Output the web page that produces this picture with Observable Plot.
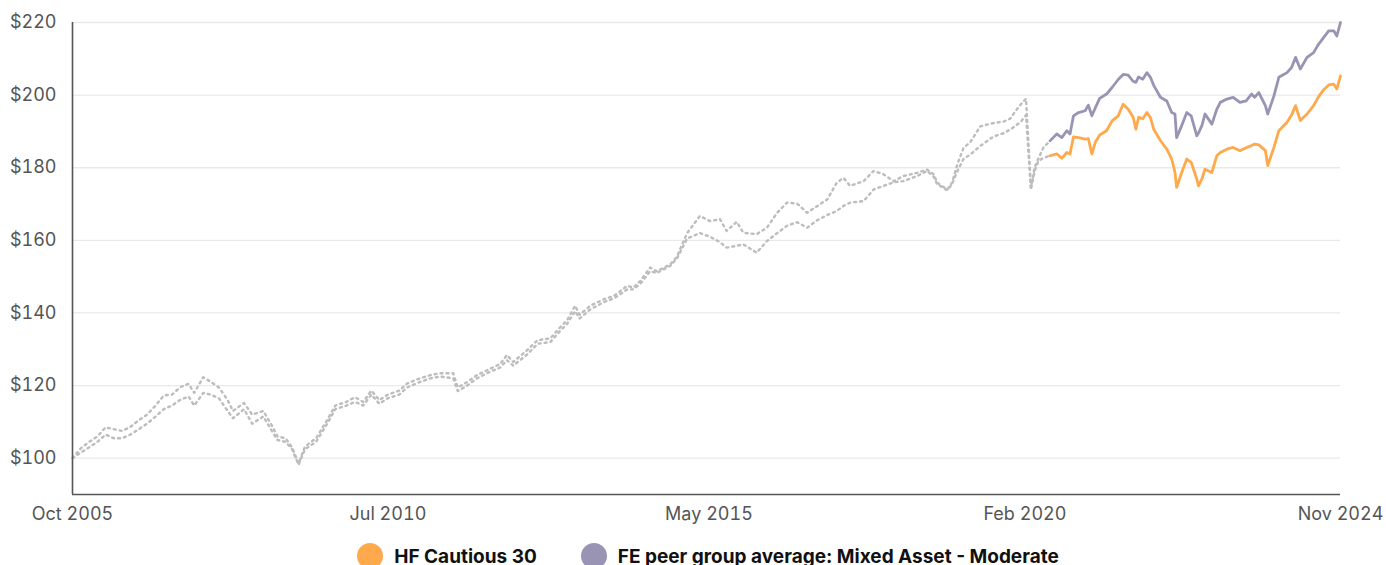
<!DOCTYPE html>
<html>
<head>
<meta charset="utf-8">
<script src="https://cdn.jsdelivr.net/npm/d3@7"></script>
<script src="https://cdn.jsdelivr.net/npm/@observablehq/plot@0.6"></script>
<style>
  html, body { margin: 0; padding: 0; background: #fff; }
  body { width: 1386px; height: 565px; overflow: hidden; font-family: Inter, "Noto Sans", sans-serif; }
  #legend { display: flex; justify-content: center; align-items: center; gap: 44px; margin-top: 13px; padding-left: 30px; }
  .item { display: flex; align-items: center; gap: 11px; font-weight: 700; font-size: 19px; color: #111; }
  .dot { width: 26px; height: 26px; border-radius: 50%; display: inline-block; flex: none; }
</style>
</head>
<body>
<div id="chart"></div>
<div id="legend"></div>
<script>
const seriesNames = ["HF Cautious 30", "FE peer group average: Mixed Asset - Moderate"];
const seriesColors = ["#FFA94D", "#9A94B4"];
const historyColor = "#BDBDBD";
const splitDate = "2020-06-18";

const dates = [
  "2005-10-01","2005-11-15","2006-01-01","2006-02-15","2006-04-01","2006-05-15","2006-07-01","2006-08-15",
  "2006-10-01","2006-11-15","2007-01-01","2007-02-15","2007-04-01","2007-05-15","2007-07-01","2007-08-01",
  "2007-09-20","2007-11-01","2007-12-15","2008-02-01","2008-03-01","2008-05-01","2008-06-15","2008-08-15",
  "2008-10-01","2008-11-01","2008-12-15","2009-01-20","2009-02-25","2009-04-01","2009-06-01","2009-08-01",
  "2009-09-15","2009-11-15","2010-01-01","2010-02-15","2010-04-01","2010-05-15","2010-07-01","2010-09-01",
  "2010-10-15","2010-12-25","2011-02-20","2011-04-15","2011-06-25","2011-07-20","2011-09-10","2011-11-03",
  "2012-01-01","2012-03-10","2012-04-15","2012-05-20","2012-08-03","2012-10-01","2012-12-10","2013-02-01",
  "2013-03-12","2013-04-25","2013-05-20","2013-07-18","2013-10-01","2013-11-25","2014-02-06","2014-03-12",
  "2014-04-18","2014-06-12","2014-07-18","2014-10-01","2014-11-06","2015-01-01","2015-03-12","2015-05-06",
  "2015-07-01","2015-08-06","2015-10-01","2015-11-06","2016-01-18","2016-03-15","2016-05-10","2016-07-03",
  "2016-08-28","2016-10-22","2016-12-15","2017-02-10","2017-04-03","2017-05-10","2017-06-15","2017-08-28",
  "2017-10-22","2017-12-15","2018-02-10","2018-04-03","2018-06-18","2018-08-12","2018-09-18","2018-10-06",
  "2018-12-01","2018-12-28","2019-01-25","2019-03-01","2019-04-06","2019-06-01","2019-08-12","2019-10-06",
  "2019-11-12","2019-12-10","2020-01-10","2020-02-07","2020-03-05","2020-03-25","2020-04-15","2020-05-12",
  "2020-06-18","2020-07-25","2020-08-22","2020-09-18","2020-10-06","2020-10-25","2020-11-22","2020-12-28",
  "2021-01-15","2021-02-03","2021-02-22","2021-03-18","2021-04-25","2021-05-25","2021-06-28","2021-07-25",
  "2021-08-22","2021-09-18","2021-10-03","2021-10-18","2021-11-10","2021-12-03","2021-12-22","2022-01-10",
  "2022-02-15","2022-03-22","2022-04-18","2022-05-06","2022-05-15","2022-06-12","2022-07-10","2022-08-03",
  "2022-09-03","2022-09-12","2022-10-01","2022-10-18","2022-11-25","2022-12-22","2023-01-10","2023-02-15",
  "2023-03-22","2023-04-28","2023-06-01","2023-07-01","2023-07-18","2023-08-10","2023-09-15","2023-09-28",
  "2023-11-01","2023-11-28","2024-01-12","2024-02-06","2024-02-28","2024-03-25","2024-05-01","2024-06-06",
  "2024-07-03","2024-08-01","2024-08-28","2024-09-25","2024-10-12","2024-11-01"
];

const hfCautious = [
  100,101.5,103,104.5,106.5,105.5,105.5,106.5,
  108,109.5,111.5,113.5,114.5,116,117,114.5,
  118,117.5,116.5,113,111,113.5,109.5,111.5,
  107.5,105,104.5,102.5,98.2,102.5,104.5,109.5,
  113.5,114.5,115.5,114.5,117.5,115,116.5,117.5,
  119.5,121,122,122.5,122,118.5,120,122,
  123.5,125,127,125.5,128.5,131.5,132,135,
  137,140.5,138.5,141,143,144,146.5,146.5,
  148,151.5,151,153,155,160.5,162,161,
  159.5,158,158.5,158.9,156.6,159.8,162,164,
  165,163.5,165.5,167,168.1,169.5,170.4,170.8,
  174,175,176,176.3,177.7,179.1,177.5,175.5,
  173.8,175.5,179,182.5,183.6,186,188.6,189.5,
  190.5,191.5,192.7,194.5,174,179,181.8,182.7,
  183.3,183.8,182.6,184.2,183.8,188.5,188.3,187.9,
  188,183.8,187,189,190.2,192.9,194.3,197.5,
  196.1,193.9,190.6,193.9,193.5,195.2,193.8,190.5,
  187.5,185.1,182.4,178.7,174.6,178.7,182.4,181.5,
  176.9,175,176.9,179.6,178.7,183.3,184.2,185.1,
  185.6,184.7,185.5,186.1,186.5,186.3,184.7,180.6,
  185.6,190.2,192.5,194.5,197.1,193,194.8,197.1,
  199.5,201.5,202.8,203,201.7,205.3
];

const fePeer = [
  100,102.7,104.5,106,108.5,108,107.5,108.6,
  110.5,112,114.5,117.3,117.5,119.5,120.5,118,
  122.3,121,119.5,116,113,115.2,112,113,
  109,106,105.5,103,98.5,103.2,105.5,110.5,
  114.5,115.5,116.8,115.5,118.6,116,117.5,118.6,
  120.6,122,122.9,123.4,123.4,119.5,121,122.9,
  124.3,126,128.4,126.5,129.7,132.5,133,136,
  138,142,139.5,142,143.8,144.7,147.5,147,
  148.8,152.5,151.5,153.4,155.5,162,166.7,165.3,
  165.8,162.6,165.1,162.1,161.7,163.5,167.6,170.4,
  170.1,167.6,169.4,171.3,175.9,177.2,175,176.3,
  179.1,178.2,176.3,177.7,178.6,179.5,178.2,175.9,
  174,175.9,180.9,185.5,187,191.4,192.3,192.7,
  193.5,195.5,197.5,199,174.5,180,182.5,185.5,
  187.4,189.3,188.3,190.2,189.3,194.3,195.2,195.7,
  197.2,194.3,196.5,199.1,200.3,202.1,204.3,205.7,
  205.5,203.8,203.5,205,204.4,206.2,204.9,202.6,
  199.4,198.4,195.2,194.8,188.3,191.6,195.2,194.3,
  188.8,189.5,191.6,194.8,192,196.1,198,198.9,
  199.4,198,198.4,200.3,199.4,200.7,197.1,194.8,
  199.8,204.9,206.2,207.6,210.4,207.2,210.4,211.7,
  214,215.9,217.7,217.7,216.3,220
];

const xTickDates = ["2005-10-01", "2010-07-01", "2015-05-01", "2020-02-01", "2024-11-01"];
const yTicks = [100, 120, 140, 160, 180, 200, 220];
const yDomain = [90, 220];

const parse = d3.utcParse("%Y-%m-%d");
const split = parse(splitDate);
const rows = [];
dates.forEach((d, i) => {
  rows.push({date: parse(d), value: hfCautious[i], series: seriesNames[0]});
  rows.push({date: parse(d), value: fePeer[i], series: seriesNames[1]});
});
const history = rows.filter(r => r.date <= split);
const recent = rows.filter(r => r.date >= split);
const xDomain = [parse(xTickDates[0]), parse(xTickDates[xTickDates.length - 1])];

const chart = Plot.plot({
  width: 1386,
  height: 530,
  marginLeft: 72,
  marginRight: 46,
  marginTop: 22,
  marginBottom: 36,
  style: {fontFamily: "Inter, 'Noto Sans', sans-serif", fontSize: "18px", color: "#555", background: "#fff"},
  x: {type: "utc", domain: xDomain, ticks: xTickDates.map(parse), tickFormat: d3.utcFormat("%b %Y"), tickSize: 0, tickPadding: 13, label: null},
  y: {domain: yDomain, ticks: yTicks, tickFormat: d => "$" + d, tickSize: 0, tickPadding: 16, label: null},
  color: {domain: seriesNames, range: seriesColors},
  marks: [
    Plot.gridY(yTicks, {stroke: "#e9e9e9", strokeOpacity: 1, strokeWidth: 1.3}),
    Plot.line(history, {x: "date", y: "value", z: "series", stroke: historyColor, strokeWidth: 2.4, strokeDasharray: "2,4", curve: "linear"}),
    Plot.line(recent, {x: "date", y: "value", z: "series", stroke: "series", strokeWidth: 2.8, curve: "linear"}),
    Plot.ruleX([xDomain[0]], {stroke: "#555", strokeWidth: 1.6}),
    Plot.ruleY([yDomain[0]], {stroke: "#555", strokeWidth: 1.6})
  ]
});
document.getElementById("chart").appendChild(chart);

const legend = document.getElementById("legend");
seriesNames.forEach((name, i) => {
  const item = document.createElement("div");
  item.className = "item";
  const dot = document.createElement("span");
  dot.className = "dot";
  dot.style.background = seriesColors[i];
  const label = document.createElement("span");
  label.textContent = name;
  item.appendChild(dot);
  item.appendChild(label);
  legend.appendChild(item);
});
</script>
</body>
</html>
